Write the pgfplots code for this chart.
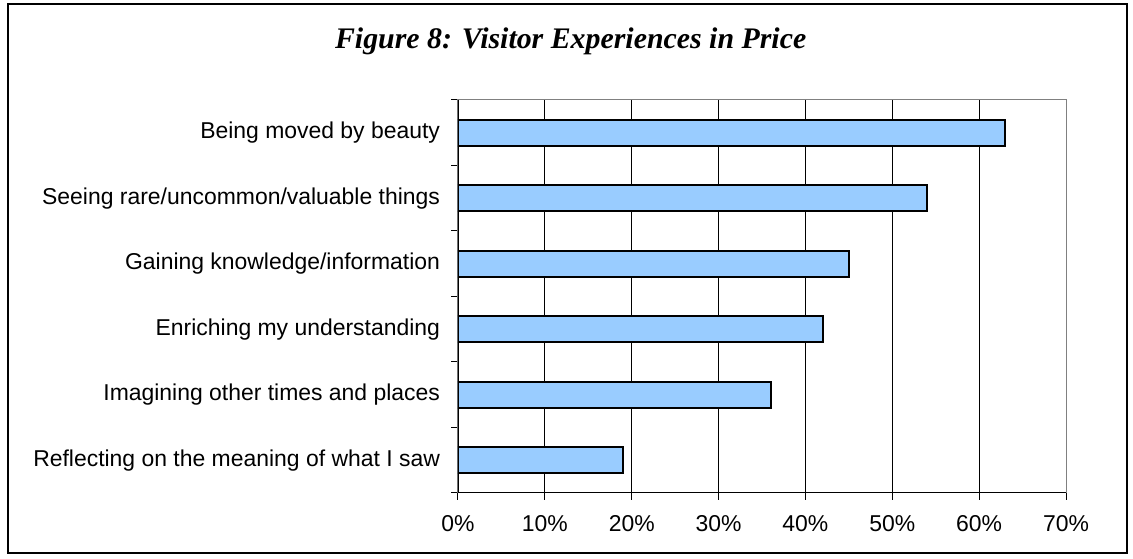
\documentclass[border=0pt]{standalone}
\usepackage{pgfplots}
\pgfplotsset{compat=1.18}
\usepackage{fontspec}
\setmainfont{Liberation Sans}
\newfontfamily\titlefont{Liberation Serif}
\definecolor{barblue}{HTML}{99CCFF}

\begin{document}
\begin{tikzpicture}
  % page = 1133 x 559 px, 1 px = 0.75pt
  \useasboundingbox (0,0) rectangle (849.75pt,419.25pt);
  \draw[line width=1.5pt] (6pt,4.5pt) rectangle (845.25pt,416.25pt);
  \node[font=\titlefont\bfseries\itshape\fontsize{22.4}{24}\selectfont] at (428pt,388pt) {Figure 8: Visitor Experiences in Price};

  \begin{axis}[
    at={(343.5pt,49.5pt)}, anchor=south west,
    scale only axis,
    width=456pt, height=294.75pt,
    xbar, bar width=19.5pt,
    xmin=0, xmax=70,
    ymin=-0.5, ymax=5.5,
    xtick={0,10,...,70},
    xticklabels={0\%,10\%,20\%,30\%,40\%,50\%,60\%,70\%},
    ytick={0,1,2,3,4,5},
    yticklabels={Reflecting on the meaning of what I saw,
      Imagining other times and places,
      Enriching my understanding,
      Gaining knowledge/information,
      Seeing rare/uncommon/valuable things,
      Being moved by beauty},
    minor ytick={-0.5,0.5,...,5.5},
    major y tick style={draw=none},
    xtick pos=bottom, ytick pos=left,
    tick align=outside,
    major tick length=5pt, minor tick length=5pt,
    tick style={black, line width=0.75pt},
    xmajorgrids, grid style={black, line width=0.75pt},
    axis line style={gray, line width=0.75pt},
    ticklabel style={font=\fontsize{17.2}{19}\selectfont},
    xticklabel style={yshift=-8pt},
    yticklabel style={xshift=-5pt},
  ]
    \addplot[fill=barblue, draw=black, line width=1.4pt] coordinates {
      (19,0) (36,1) (42,2) (45,3) (54,4) (63,5)};
    \draw[black, line width=1pt] (rel axis cs:0,1) -- (rel axis cs:0,0) -- (rel axis cs:1,0);
  \end{axis}
\end{tikzpicture}
\end{document}
